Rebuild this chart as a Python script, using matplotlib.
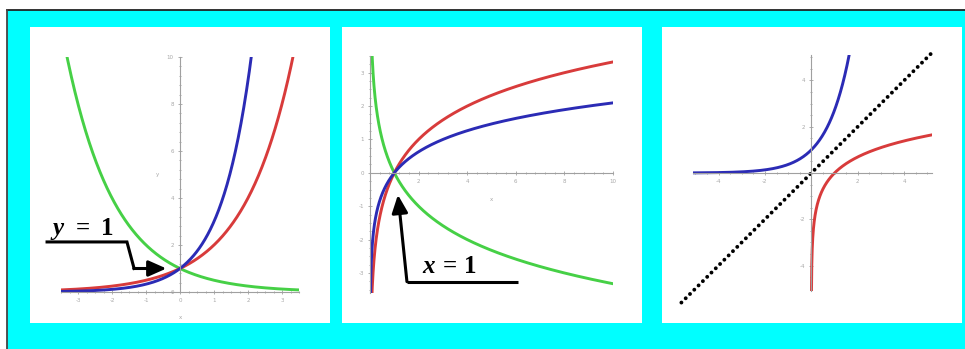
import numpy as np
import matplotlib.pyplot as plt
from matplotlib.patches import Rectangle
from matplotlib.lines import Line2D
from matplotlib.ticker import MultipleLocator

plt.rcParams['axes.unicode_minus'] = False

W, H = 965, 349

# left panel: b^x for three bases
exp_x = np.linspace(-3.5, 3.5, 600)
exp_bases = [2, 3, 0.5]
exp_xticks = [-3, -2, -1, 0, 1, 2, 3]
exp_yticks = [0, 2, 4, 6, 8, 10]

# middle panel: log_b(x) for the same bases
log_x = np.linspace(0.004, 10, 3000)
log_bases = [2, 3, 0.5]
log_xticks = [2, 4, 6, 8, 10]
log_yticks = [-3, -2, -1, 0, 1, 2, 3]

# right panel: e^x and ln x mirrored in y = x
inv_exp_x = np.linspace(-5.1, 1.7, 500)
inv_log_x = np.linspace(0.006, 5.2, 2000)
inv_ticks = [-4, -2, 2, 4]
diag_x = [-5.6, 5.3]

colors = {2: '#d83b3b', 3: '#2b2bb5', 0.5: '#46d046'}
cyan = '#00ffff'


def box(x0, y0, x1, y1):
    # pixel box (top-left origin) -> figure fraction rect
    return [x0 / W, 1 - y1 / H, (x1 - x0) / W, (y1 - y0) / H]


def maple_axes(ax, xlim, ylim, xticks, yticks, xminor, yminor):
    ax.set_xlim(*xlim)
    ax.set_ylim(*ylim)
    ax.set_facecolor('none')
    ax.spines['top'].set_visible(False)
    ax.spines['right'].set_visible(False)
    ax.spines['left'].set_position(('data', 0))
    ax.spines['bottom'].set_position(('data', 0))
    for s in ['left', 'bottom']:
        ax.spines[s].set_color('#a0a0a0')
        ax.spines[s].set_linewidth(0.8)
    ax.set_xticks(xticks)
    ax.set_yticks(yticks)
    ax.xaxis.set_minor_locator(MultipleLocator(xminor))
    ax.yaxis.set_minor_locator(MultipleLocator(yminor))
    ax.tick_params(which='both', direction='inout', color='#a0a0a0',
                   labelsize=4, labelcolor='#a8a8a8', width=0.6, pad=3)
    ax.tick_params(which='major', length=3)
    ax.tick_params(which='minor', length=2)


def equation(ax, var, xs, y):
    # "var = 1" with the variable in bold italic, the rest upright bold
    font = dict(family='Liberation Serif', fontsize=18, fontweight='bold',
                ha='left', va='baseline')
    ax.text(xs[0], y, var, style='italic', **font)
    ax.text(xs[1], y, '=', **font)
    ax.text(xs[2], y, '1', **font)


fig = plt.figure(figsize=(W / 100, H / 100), dpi=100, facecolor='white')

# cyan slide background with black top/left edge
fig.patches.append(Rectangle((7 / W, 0), 1 - 7 / W, 1 - 10 / H,
                             transform=fig.transFigure, facecolor=cyan,
                             edgecolor='none', zorder=-3))
fig.add_artist(Line2D([7 / W, 1], [1 - 10 / H, 1 - 10 / H],
                      transform=fig.transFigure, color='#222222', lw=1.3,
                      zorder=-2))
fig.add_artist(Line2D([7 / W, 7 / W], [0, 1 - 10 / H],
                      transform=fig.transFigure, color='#444444', lw=1.3,
                      zorder=-2))

# white cards
for x0, x1 in [(30, 330), (342, 642), (662, 962)]:
    r = box(x0, 27, x1, 323)
    fig.patches.append(Rectangle((r[0], r[1]), r[2], r[3],
                                 transform=fig.transFigure, facecolor='white',
                                 edgecolor='none', zorder=-1))

arrow_props = dict(arrowstyle='-|>,head_length=0.9,head_width=0.4',
                   mutation_scale=12, lw=2.2, color='black',
                   shrinkA=0, shrinkB=0)

# ---- exponentials ----
ax1 = fig.add_axes(box(61, 57, 299, 292))
maple_axes(ax1, (-3.5, 3.5), (0, 10), exp_xticks, exp_yticks, 0.25, 0.4)
for b in [0.5, 2, 3]:
    ax1.plot(exp_x, b ** exp_x, color=colors[b], lw=2.1)
ax1.text(-0.65, 4.98, 'y', fontsize=4, color='#a8a8a8', ha='center', va='center')
ax1.text(0, -1.1, 'x', fontsize=4, color='#a8a8a8', ha='center', va='center',
         clip_on=False)

y1_point = (0, 1)
ax1.plot([-3.91, -1.56, -1.35], [2.13, 2.13, y1_point[1]], color='black',
         lw=2.2, clip_on=False, solid_joinstyle='miter')
ax1.annotate('', xy=(-0.4, y1_point[1]), xytext=(-1.36, y1_point[1]),
             arrowprops=arrow_props, annotation_clip=False)
equation(ax1, 'y', [-3.76, -3.07, -2.32], 2.43)

# ---- logarithms ----
ax2 = fig.add_axes(box(370, 56, 613, 293))
maple_axes(ax2, (0, 10), (-3.6, 3.5), log_xticks, log_yticks, 0.4, 0.25)
for b in [0.5, 2, 3]:
    ax2.plot(log_x, np.log(log_x) / np.log(b), color=colors[b], lw=2.1)
ax2.text(5, -0.81, 'x', fontsize=4, color='#a8a8a8', ha='center', va='center')

x1_point = (1, 0)
ax2.plot([6.09, 1.52], [-3.26, -3.26], color='black', lw=2.2,
         clip_on=False, solid_capstyle='butt')
ax2.annotate('', xy=(1.15, -0.66), xytext=(1.52, -3.26),
             arrowprops=arrow_props, annotation_clip=False)
equation(ax2, 'x', [2.15, 3.0, 3.88], -2.99)

# ---- inverse pair ----
ax3 = fig.add_axes(box(693, 55, 932, 291))
maple_axes(ax3, (-5.1, 5.2), (-5.1, 5.1), inv_ticks, inv_ticks, 0.5, 0.5)
ax3.plot(inv_exp_x, np.exp(inv_exp_x), color=colors[3], lw=2.1)
ax3.plot(inv_log_x, np.log(inv_log_x), color=colors[2], lw=2.1)
ax3.plot(diag_x, diag_x, color='black', lw=2.8, clip_on=False,
         linestyle=(0, (0.01, 1.55)), dash_capstyle='round')

fig.savefig('out.png', dpi=100, facecolor='white')
